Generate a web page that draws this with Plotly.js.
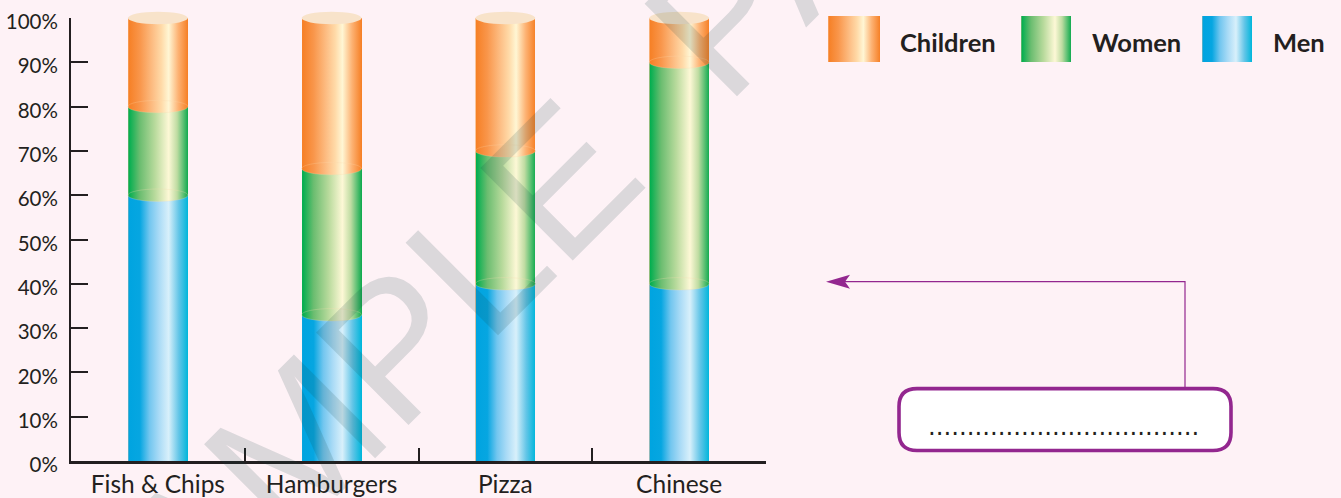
<!DOCTYPE html>
<html>
<head>
<meta charset="utf-8">
<script src="https://cdn.plot.ly/plotly-3.0.1.min.js"></script>
<style>html,body{margin:0;padding:0;background:#fef2f6;overflow:hidden}</style>
</head>
<body>
<div id="chart" style="width:1341px;height:498px"></div>
<script>
// Meal preference by group, as a share of each meal's customers
const categories = ['Fish & Chips', 'Hamburgers', 'Pizza', 'Chinese'];
const men = [60, 33, 40, 40];
const women = [20, 33, 30, 50];
const children = [20, 34, 30, 10];
const yTicks = [0, 10, 20, 30, 40, 50, 60, 70, 80, 90, 100];
const yTickLabels = ['0%', '10%', '20%', '30%', '40%', '50%', '60%', '70%', '80%', '90%', '100%'];
const legendLabels = ['Children', 'Women', 'Men'];
const answerLine = '...................................';
const watermark = 'SAMPLE\u00a0 PAGE';

// Cylinder shading
const shades = {
  Men: [[0, '#f7c9a0'], [0.015, '#00a4e0'], [0.2, '#06a6e1'], [0.36, '#72c6ef'], [0.52, '#aadbf6'], [0.68, '#d8f0fb'], [0.85, '#62c5e7'], [1, '#00b6db']],
  Women: [[0, '#f7c9a0'], [0.015, '#00ae4f'], [0.2, '#6bbd70'], [0.45, '#b8da9c'], [0.68, '#fdf8d6'], [0.82, '#bfdca2'], [1, '#12ab50']],
  Children: [[0, '#f9d0ae'], [0.015, '#f68026'], [0.2, '#f9964b'], [0.42, '#fdbf86'], [0.56, '#ffdaa8'], [0.68, '#fff6d4'], [0.84, '#fdb273'], [1, '#f68026']]
};
const ink = '#231f20', purple = '#93278f', page = '#fef2f6';
const plotLeft = 71, plotRight = 766, plotTop = 18, plotBottom = 461.5;
const barShare = 60 / 173.75;
const capHalf = 1.4;

// Pixel helpers for the decorations that sit outside the plot area
const px = v => (v - plotLeft) / (plotRight - plotLeft);
const py = v => (plotBottom - v) / (plotBottom - plotTop);
const P = (x, y) => px(x) + ',' + py(y);

function barTrace(name, values) {
  return {type: 'bar', name, x: categories, y: values, marker: {color: shades[name][1][1], line: {width: 0}},
    hovertemplate: '%{x}: %{y}%<extra>' + name + '</extra>'};
}

// Ellipses at each segment top, placed from the stacked totals
const shapes = [], shapeFills = {};
function ellipse(i, level, gradient, fill, outline) {
  const half = barShare / 8;
  const c = (i + 0.5) / categories.length;
  shapes.push({type: 'circle', xref: 'paper', yref: 'paper', x0: c - half, x1: c + half,
    y0: (level - capHalf) / 100, y1: (level + capHalf) / 100, fillcolor: fill,
    line: outline ? {color: outline, width: 0.5} : {width: 0}});
  if (gradient) shapeFills[shapes.length - 1] = gradient;
}
categories.forEach((c, i) => {
  ellipse(i, men[i], 'Women', '#b8da9c', 'rgba(243,220,174,0.55)');
  ellipse(i, men[i] + women[i], 'Children', '#fdbf86', 'rgba(252,217,172,0.5)');
  ellipse(i, men[i] + women[i] + children[i], null, '#f8e3ca', null);
});

// Legend swatches
const swatches = [[828, 880, 'Children'], [1021, 1071, 'Women'], [1202, 1252, 'Men']];
swatches.forEach(s => {
  shapes.push({type: 'rect', xref: 'paper', yref: 'paper', x0: px(s[0]), x1: px(s[1]), y0: py(62), y1: py(16),
    fillcolor: shades[s[2]][1][1], line: {width: 0}});
  shapeFills[shapes.length - 1] = s[2];
});

// Answer box and its leader arrow
const bx0 = 899, bx1 = 1231, by0 = 389, by1 = 451, r = 18;
shapes.push({type: 'path', xref: 'paper', yref: 'paper',
  path: 'M' + P(1185, 389) + ' L' + P(1185, 282) + ' L' + P(840, 282), line: {color: purple, width: 1.2}});
shapes.push({type: 'path', xref: 'paper', yref: 'paper',
  path: 'M' + P(826, 282) + ' L' + P(850, 275) + ' L' + P(845, 282) + ' L' + P(850, 289) + ' Z',
  fillcolor: purple, line: {width: 0}});
shapes.push({type: 'path', xref: 'paper', yref: 'paper',
  path: 'M' + P(bx0 + r, by0) + ' L' + P(bx1 - r, by0) + ' Q' + P(bx1, by0) + ' ' + P(bx1, by0 + r) +
    ' L' + P(bx1, by1 - r) + ' Q' + P(bx1, by1) + ' ' + P(bx1 - r, by1) +
    ' L' + P(bx0 + r, by1) + ' Q' + P(bx0, by1) + ' ' + P(bx0, by1 - r) +
    ' L' + P(bx0, by0 + r) + ' Q' + P(bx0, by0) + ' ' + P(bx0 + r, by0) + ' Z',
  fillcolor: '#ffffff', line: {color: purple, width: 3.6}});

const sans = 'Lato, sans-serif';
const legendX = [899, 1091, 1272];
const annotations = legendLabels.map((t, i) => ({
  text: '<b>' + t + '</b>', xref: 'paper', yref: 'paper', x: px(legendX[i]), y: py(42), xanchor: 'left', yanchor: 'middle',
  showarrow: false, borderpad: 0, font: {family: sans, size: 25.5, color: ink}
}));
annotations.push({text: answerLine, xref: 'paper', yref: 'paper', x: px(926), y: py(427), xanchor: 'left', yanchor: 'middle',
  showarrow: false, font: {family: 'DejaVu Sans', size: 24.4, color: ink}});
annotations.push({text: watermark, xref: 'paper', yref: 'paper', x: px(551), y: py(189), xanchor: 'center', yanchor: 'middle',
  showarrow: false, textangle: -45, font: {family: 'Liberation Sans', size: 190, color: 'rgba(20,67,64,0.15)'}});

const layout = {
  width: 1341, height: 498,
  margin: {l: plotLeft, r: 1341 - plotRight, t: plotTop, b: 498 - plotBottom},
  paper_bgcolor: page, plot_bgcolor: page,
  barmode: 'stack', bargap: 1 - barShare, showlegend: false,
  font: {family: sans, color: ink, size: 20},
  xaxis: {type: 'category', range: [-0.5, 3.5], showgrid: false, showline: true, linecolor: ink, linewidth: 2.5,
    ticks: 'inside', tickson: 'boundaries', ticklen: 13, tickwidth: 2, tickcolor: ink, tickfont: {size: 24.5}, zeroline: false},
  yaxis: {range: [0, 100], tickvals: yTicks, ticktext: yTickLabels, showgrid: false, showline: true, linecolor: ink, linewidth: 2,
    ticks: 'inside', ticklen: 17, tickwidth: 2, tickcolor: ink, tickfont: {size: 20.5}, ticklabelstandoff: 7, ticklabelshift: 4, zeroline: false},
  shapes, annotations
};

const traces = [barTrace('Men', men), barTrace('Women', women), barTrace('Children', children)];

Plotly.newPlot('chart', traces, layout, {displayModeBar: false}).then(gd => {
  // Cylinder shading: horizontal gradients on the bars, swatches and ellipses
  const NS = 'http://www.w3.org/2000/svg';
  const defs = gd.querySelector('.main-svg defs');
  Object.keys(shades).forEach(name => {
    const g = document.createElementNS(NS, 'linearGradient');
    g.setAttribute('id', 'shade' + name);
    g.setAttribute('x1', '0'); g.setAttribute('x2', '1'); g.setAttribute('y1', '0'); g.setAttribute('y2', '0');
    shades[name].forEach(s => {
      const stop = document.createElementNS(NS, 'stop');
      stop.setAttribute('offset', s[0]);
      stop.setAttribute('stop-color', s[1]);
      g.appendChild(stop);
    });
    defs.appendChild(g);
  });
  gd.querySelectorAll('.barlayer .trace').forEach((t, i) => {
    t.querySelectorAll('path').forEach(p => { p.style.fill = 'url(#shade' + traces[i].name + ')'; });
  });
  Object.keys(shapeFills).forEach(i => {
    const p = gd.querySelector('.layer-above .shapelayer path[data-index="' + i + '"]');
    if (p) p.style.fill = 'url(#shade' + shapeFills[i] + ')';
  });
});
</script>
</body>
</html>
